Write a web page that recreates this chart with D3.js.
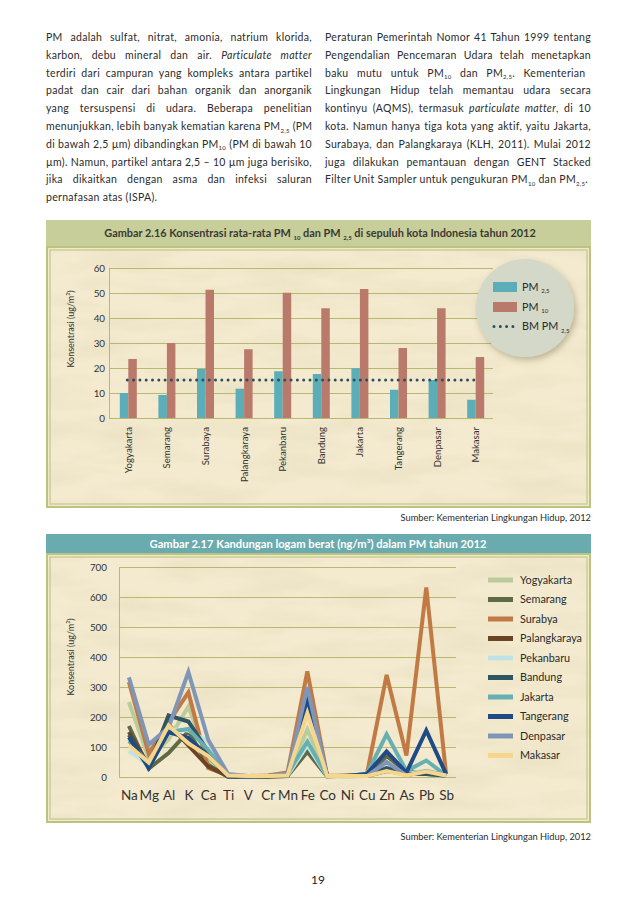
<!DOCTYPE html>
<html><head><meta charset="utf-8">
<script src="https://cdn.jsdelivr.net/npm/d3@7"></script>
<style>
html,body{margin:0;padding:0;background:#fff;}
svg{display:block;}
text{font-family:Lato,"Open Sans",sans-serif;}
</style></head>
<body>
<svg id="page" width="638" height="903"></svg>
<script>
// ---------- DATA ----------
const leftParagraph = [
  "PM adalah sulfat, nitrat, amonia, natrium klorida,",
  "karbon, debu mineral dan air. *Particulate matter*",
  "terdiri dari campuran yang kompleks antara partikel",
  "padat dan cair dari bahan organik dan anorganik",
  "yang tersuspensi di udara. Beberapa penelitian",
  "menunjukkan, lebih banyak kematian karena PM_{2,5} (PM",
  "di bawah 2,5 µm) dibandingkan PM_{10} (PM di bawah 10",
  "µm). Namun, partikel antara 2,5 – 10 µm juga berisiko,",
  "jika dikaitkan dengan asma dan infeksi saluran",
  "pernafasan atas (ISPA)."
];
const rightParagraph = [
  "Peraturan Pemerintah Nomor 41 Tahun 1999 tentang",
  "Pengendalian Pencemaran Udara telah menetapkan",
  "baku mutu untuk PM_{10} dan PM_{2,5}.  Kementerian",
  "Lingkungan Hidup telah memantau udara secara",
  "kontinyu (AQMS), termasuk *particulate matter*, di 10",
  "kota. Namun hanya tiga kota yang aktif, yaitu Jakarta,",
  "Surabaya, dan Palangkaraya (KLH, 2011). Mulai 2012",
  "juga dilakukan pemantauan dengan GENT Stacked",
  "Filter Unit Sampler untuk pengukuran PM_{10} dan PM_{2,5}."
];

const title1 = "Gambar 2.16 Konsentrasi rata-rata PM _{10} dan PM _{2,5} di sepuluh kota Indonesia tahun 2012";
const title2 = "Gambar 2.17  Kandungan logam berat (ng/m³) dalam PM tahun 2012";
const yTitle = "Konsentrasi (ug/m³)";
const source = "Sumber: Kementerian Lingkungan Hidup, 2012";
const pageNumber = "19";

const cities = ["Yogyakarta","Semarang","Surabaya","Palangkaraya","Pekanbaru","Bandung","Jakarta","Tangerang","Denpasar","Makasar"];
const pm25 = [10, 9.2, 19.6, 11.7, 18.7, 17.6, 19.9, 11.3, 15.2, 7.3];
const pm10 = [23.6, 30, 51.3, 27.5, 50.1, 43.9, 51.6, 28, 43.9, 24.4];
const bmPm25 = 15.2;
const ticks1 = [0,10,20,30,40,50,60];
const legend1 = ["PM _{2,5}", "PM _{10}", "BM PM _{2,5}"];

const elements = ["Na","Mg","Al","K","Ca","Ti","V","Cr","Mn","Fe","Co","Ni","Cu","Zn","As","Pb","Sb"];
const seriesNames = ["Yogyakarta","Semarang","Surabya","Palangkaraya","Pekanbaru","Bandung","Jakarta","Tangerang","Denpasar","Makasar"];
const yogyakarta   = [250, 62, 125, 235, 58, 5, 2, 3, 5, 158, 3, 2, 3, 40, 10, 20, 5];
const semarang     = [170, 28, 80, 152, 40, 0, 0, 0, 3, 84, 2, 5, 5, 70, 18, 10, 5];
const surabya      = [317, 78, 182, 282, 30, 5, 3, 5, 15, 352, 4, 5, 8, 340, 72, 632, 10];
const palangkaraya = [150, 38, 175, 105, 35, 3, 2, 3, 5, 250, 3, 3, 3, 20, 10, 15, 5];
const pekanbaru    = [86, 40, 160, 155, 118, 5, 2, 3, 5, 105, 3, 3, 5, 40, 10, 20, 5];
const bandung      = [140, 35, 205, 185, 85, 3, 2, 3, 5, 287, 3, 3, 5, 30, 10, 10, 5];
const jakarta      = [120, 45, 150, 160, 90, 5, 2, 3, 10, 118, 3, 3, 10, 142, 20, 55, 5];
const tangerang    = [132, 30, 150, 130, 70, 3, 2, 3, 5, 240, 3, 3, 10, 85, 15, 155, 10];
const denpasar     = [332, 108, 165, 350, 124, 10, 3, 3, 8, 300, 3, 3, 3, 50, 5, 20, 5];
const makasar      = [105, 48, 172, 112, 70, 5, 3, 3, 5, 213, 3, 3, 3, 20, 5, 18, 5];
const seriesValues = [yogyakarta, semarang, surabya, palangkaraya, pekanbaru, bandung, jakarta, tangerang, denpasar, makasar];
const seriesColors = ["#bccb9c","#5e6a47","#c27a45","#6a4424","#bfe3e4","#2f5561","#68afb1","#1f4a86","#8196b7","#f6d68c"];
const ticks2 = [0,100,200,300,400,500,600,700];

// ---------- HELPERS ----------
const svg = d3.select("#page");
const defs = svg.append("defs");
const paper = defs.append("filter").attr("id","paper").attr("x",0).attr("y",0).attr("width",1).attr("height",1);
paper.append("feTurbulence").attr("type","fractalNoise").attr("baseFrequency","0.012 0.05").attr("numOctaves",3).attr("seed",7);
paper.append("feColorMatrix").attr("type","matrix")
  .attr("values","0 0 0 0 0.62  0 0 0 0 0.52  0 0 0 0 0.32  1.1 0 0 0 -0.45");
const shadow = defs.append("filter").attr("id","shadow").attr("x","-30%").attr("y","-30%").attr("width","160%").attr("height","160%");
shadow.append("feDropShadow").attr("dx",2).attr("dy",3).attr("stdDeviation",3).attr("flood-color","#6b6040").attr("flood-opacity",0.4);

function parseRich(s){
  const out=[]; const re=/_\{([^}]*)\}|\*([^*]*)\*/g; let last=0,m;
  while((m=re.exec(s))){ if(m.index>last) out.push({t:s.slice(last,m.index)});
    if(m[1]!==undefined) out.push({t:m[1],sub:true}); else out.push({t:m[2],it:true});
    last=re.lastIndex; }
  if(last<s.length) out.push({t:s.slice(last)});
  return out;
}
function richText(sel, s, subSize){
  const segs=parseRich(s); let shifted=false;
  segs.forEach(seg=>{
    const ts=sel.append("tspan").text(seg.t);
    if(seg.sub){ ts.attr("font-size",subSize).attr("dy",shifted?0:2.5); shifted=true; }
    else { if(shifted){ ts.attr("dy",-2.5); shifted=false; } if(seg.it) ts.attr("font-style","italic"); }
  });
  return sel;
}
function paragraph(lines, x, width, y0, lh){
  lines.forEach((ln,i)=>{
    const t=svg.append("text").attr("x",x).attr("y",y0+i*lh).attr("font-size",10.5)
      .attr("letter-spacing",0.3).attr("fill","#2b2b2b");
    richText(t, ln, 6);
    if(i<lines.length-1){
      const nat=t.node().getComputedTextLength();
      const spaces=(ln.match(/ /g)||[]).length;
      if(spaces>0 && nat<width) t.attr("word-spacing",(width-nat)/spaces);
    }
  });
}
function panel(x,y,w,h){
  svg.append("rect").attr("x",x).attr("y",y).attr("width",w).attr("height",h).attr("fill","#f3eacf");
  svg.append("rect").attr("x",x).attr("y",y).attr("width",w).attr("height",h).attr("filter","url(#paper)").attr("opacity",0.35);
  svg.append("rect").attr("x",x+1).attr("y",y+1).attr("width",w-2).attr("height",h-2).attr("fill","none").attr("stroke","#bcc37f").attr("stroke-width",2);
  svg.append("rect").attr("x",x+4).attr("y",y+4).attr("width",w-8).attr("height",h-8).attr("fill","none").attr("stroke","#c9ce96").attr("stroke-width",1.5);
}

// ---------- BODY TEXT ----------
paragraph(leftParagraph, 46, 266, 41, 17.8);
paragraph(rightParagraph, 325, 266, 41, 17.8);

// ---------- CHART 1 ----------
svg.append("rect").attr("x",46).attr("y",220).attr("width",545).attr("height",27).attr("fill","#c8ce9a");
richText(svg.append("text").attr("x",320).attr("y",237).attr("text-anchor","middle").attr("font-size",10.9).attr("font-weight","bold").attr("fill","#3a3a32"), title1, 6);
panel(46,246,545,262);

const y1 = d3.scaleLinear().domain([0,60]).range([418,268]);
const x1 = d3.scaleBand().domain(cities).range([109,495]);
const xs = d3.scaleBand().domain(["pm25","pm10"]).range([x1.bandwidth()/2-8.5, x1.bandwidth()/2+8.5]);
const g1 = svg.append("g");
g1.append("g").attr("transform","translate(109,0)")
  .call(d3.axisLeft(y1).tickValues(ticks1).tickSize(-384).tickPadding(4).tickFormat(d3.format("d")))
  .call(g=>{g.select(".domain").attr("stroke","#b7b96e");
    g.selectAll(".tick line").attr("stroke","#b7b96e").attr("stroke-width",1);
    g.selectAll(".tick text").attr("font-size",9.8).attr("fill","#333").attr("font-family","Lato, sans-serif");});
const grp = g1.selectAll(".grp").data(cities).join("g").attr("transform",d=>`translate(${x1(d)},0)`);
grp.append("rect").attr("x",xs("pm25")).attr("width",xs.bandwidth()).attr("y",(d,i)=>y1(pm25[i])).attr("height",(d,i)=>y1(0)-y1(pm25[i])).attr("fill","#5badb8");
grp.append("rect").attr("x",xs("pm10")).attr("width",xs.bandwidth()).attr("y",(d,i)=>y1(pm10[i])).attr("height",(d,i)=>y1(0)-y1(pm10[i])).attr("fill","#b97a6b");
g1.append("line").attr("x1",x1(cities[0])+x1.bandwidth()/2-1).attr("x2",x1(cities[9])+x1.bandwidth()/2+4)
  .attr("y1",y1(bmPm25)).attr("y2",y1(bmPm25)).attr("stroke","#2c4f5b").attr("stroke-width",3)
  .attr("stroke-linecap","round").attr("stroke-dasharray","0 6.3");
g1.append("g").attr("transform",`translate(0,${y1(0)})`)
  .call(d3.axisBottom(x1).tickSize(0).tickPadding(0))
  .call(g=>{g.select(".domain").remove();
    g.selectAll(".tick text").attr("transform","translate(3.5,9) rotate(-90)").attr("text-anchor","end").attr("dy",0).attr("y",0)
      .attr("font-size",9.6).attr("fill","#333").attr("font-family","Lato, sans-serif");});
svg.append("text").attr("transform","translate(74,329) rotate(-90)").attr("text-anchor","middle").attr("font-size",9).attr("fill","#333").text(yTitle);

// legend 1
svg.append("circle").attr("cx",525).attr("cy",308).attr("r",49).attr("fill","#d4d8c8").attr("filter","url(#shadow)");
[{c:"#5badb8"},{c:"#b97a6b"},{c:"dots"}].forEach((d,i)=>{
  const yy=[287,307,326.5][i];
  if(d.c==="dots") svg.append("line").attr("x1",494).attr("x2",517).attr("y1",yy).attr("y2",yy).attr("stroke","#2c4f5b").attr("stroke-width",3).attr("stroke-linecap","round").attr("stroke-dasharray","0 6.3");
  else svg.append("rect").attr("x",493).attr("y",yy-5).attr("width",24).attr("height",10).attr("fill",d.c);
  richText(svg.append("text").attr("x",522).attr("y",yy+3.5).attr("font-size",10.8).attr("fill","#2b2b2b"), legend1[i], 6);
});
svg.append("text").attr("x",591).attr("y",521).attr("text-anchor","end").attr("font-size",9.3).attr("fill","#2b2b2b").text(source);

// ---------- CHART 2 ----------
svg.append("rect").attr("x",46).attr("y",534).attr("width",545).attr("height",20).attr("fill","#6aabb0");
svg.append("text").attr("x",318).attr("y",548).attr("text-anchor","middle").attr("font-size",11.2).attr("font-weight","bold").attr("fill","#fff").text(title2);
panel(46,553,545,270);

const y2 = d3.scaleLinear().domain([0,700]).range([777,567]);
const x2 = d3.scalePoint().domain(elements).range([119,456]).padding(0.5);
const g2 = svg.append("g");
g2.append("g").attr("transform","translate(119,0)")
  .call(d3.axisLeft(y2).tickValues(ticks2).tickSize(-337).tickPadding(12).tickFormat(d3.format("d")))
  .call(g=>{g.select(".domain").attr("stroke","#b7b96e");
    g.selectAll(".tick line").attr("stroke","#b7b96e").attr("stroke-width",1);
    g.selectAll(".tick text").attr("font-size",9.8).attr("fill","#333").attr("font-family","Lato, sans-serif");});
g2.append("g").attr("transform",`translate(0,${y2(0)})`)
  .call(d3.axisBottom(x2).tickSize(0).tickPadding(13))
  .call(g=>{g.select(".domain").remove();
    g.selectAll(".tick text").attr("font-size",13.5).attr("fill","#333").attr("font-family","Lato, sans-serif");});
const line = d3.line().x((d,i)=>x2(elements[i])).y(d=>y2(d));
g2.selectAll(".series").data(seriesValues).join("path")
  .attr("d",d=>line(d)).attr("fill","none").attr("stroke",(d,i)=>seriesColors[i]).attr("stroke-width",4).attr("stroke-linejoin","miter");
svg.append("text").attr("transform","translate(74,657) rotate(-90)").attr("text-anchor","middle").attr("font-size",9).attr("fill","#333").text(yTitle);

seriesNames.forEach((n,i)=>{
  const yy = 580 + i*19.5;
  svg.append("rect").attr("x",488).attr("y",yy-2.5).attr("width",25).attr("height",5).attr("fill",seriesColors[i]);
  svg.append("text").attr("x",520).attr("y",yy+3.8).attr("font-size",10.8).attr("fill","#2b2b2b").text(n);
});
svg.append("text").attr("x",591).attr("y",840).attr("text-anchor","end").attr("font-size",9.3).attr("fill","#2b2b2b").text(source);
svg.append("text").attr("x",318).attr("y",884).attr("text-anchor","middle").attr("font-size",12).attr("fill","#222").text(pageNumber);
</script>
</body></html>
